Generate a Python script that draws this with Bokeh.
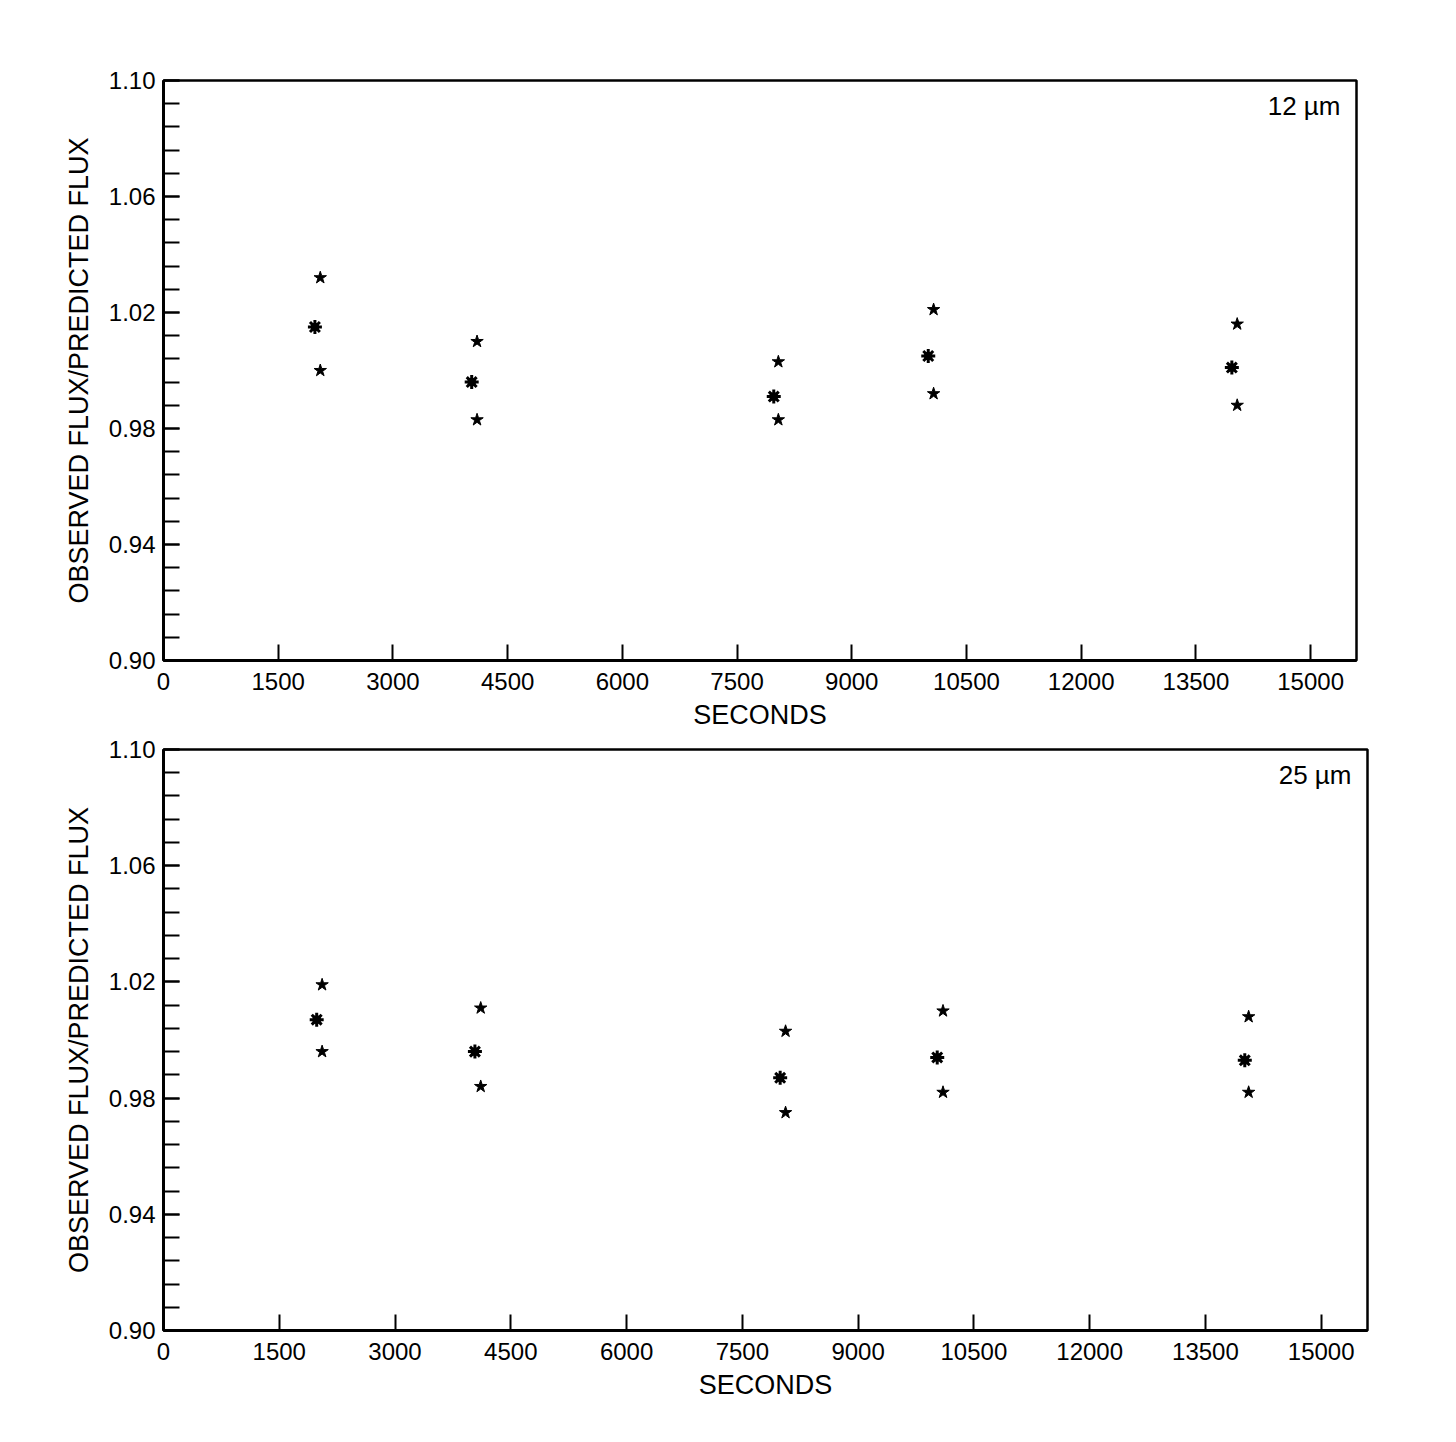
from bokeh.plotting import figure
from bokeh.layouts import column
from bokeh.models import FixedTicker, PrintfTickFormatter, Label, ColumnDataSource
from bokeh.embed import file_html
from bokeh.resources import INLINE

# ---- data ----
x_ticks = [0, 1500, 3000, 4500, 6000, 7500, 9000, 10500, 12000, 13500, 15000]
y_ticks = [0.90, 0.94, 0.98, 1.02, 1.06, 1.10]

# 12 micron panel
t12_mean = [1980, 4030, 7980, 10000, 13970]
f12_mean = [1.015, 0.996, 0.991, 1.005, 1.001]
t12_err = [2050, 4100, 8040, 10070, 14040]
f12_high = [1.032, 1.010, 1.003, 1.021, 1.016]
f12_low = [1.000, 0.983, 0.983, 0.992, 0.988]

# 25 micron panel
t25_mean = [1985, 4035, 7990, 10025, 14010]
f25_mean = [1.007, 0.996, 0.987, 0.994, 0.993]
t25_err = [2055, 4110, 8060, 10100, 14060]
f25_high = [1.019, 1.011, 1.003, 1.010, 1.008]
f25_low = [0.996, 0.984, 0.975, 0.982, 0.982]

FONT = "Liberation Sans"


def make_panel(tm, fm, te, fh, fl, label, left, top, fw, fh_px, bottom):
    p = figure(frame_width=fw, frame_height=fh_px, x_range=(0, 15600), y_range=(0.90, 1.10),
               output_backend="svg", toolbar_location=None,
               min_border_left=left, min_border_top=top, min_border_right=30,
               min_border_bottom=bottom)
    p.grid.visible = False
    p.outline_line_color = "black"
    p.outline_line_width = 2.5
    p.background_fill_color = "white"
    p.border_fill_color = "white"

    p.xaxis.ticker = FixedTicker(ticks=x_ticks)
    p.yaxis.ticker = FixedTicker(ticks=y_ticks,
                                 minor_ticks=[round(0.90 + 0.008 * i, 3) for i in range(26)])
    p.yaxis.formatter = PrintfTickFormatter(format="%.2f")
    for ax in (p.xaxis[0], p.yaxis[0]):
        ax.axis_line_width = 3
        ax.axis_line_color = "black"
        ax.major_tick_in = 16
        ax.major_tick_out = 0
        ax.minor_tick_in = 16
        ax.minor_tick_out = 0
        ax.major_tick_line_width = 2
        ax.minor_tick_line_width = 2
        ax.major_label_text_font = FONT
        ax.major_label_text_font_size = "24px"
        ax.major_label_text_color = "black"
        ax.axis_label_text_font = FONT
        ax.axis_label_text_font_size = "27px"
        ax.axis_label_text_font_style = "normal"
        ax.axis_label_text_color = "black"
    p.xaxis.minor_tick_line_color = None
    p.xaxis.major_label_standoff = 12
    p.yaxis.major_label_standoff = 8
    p.xaxis.axis_label = "SECONDS"
    p.xaxis.axis_label_standoff = 7
    p.yaxis.axis_label = "OBSERVED FLUX/PREDICTED FLUX"
    p.yaxis.axis_label_standoff = 12

    src_m = ColumnDataSource(dict(x=tm, y=fm))
    src_h = ColumnDataSource(dict(x=te, y=fh))
    src_l = ColumnDataSource(dict(x=te, y=fl))
    p.scatter("x", "y", source=src_m, marker="asterisk", size=14, line_width=3, color="black")
    p.scatter("x", "y", source=src_m, marker="square", size=7, color="black")
    p.scatter("x", "y", source=src_h, marker="star", size=13, color="black")
    p.scatter("x", "y", source=src_l, marker="star", size=13, color="black")

    p.add_layout(Label(x=fw - 16, y=fh_px - 10, x_units="screen", y_units="screen",
                       text=label, text_font=FONT, text_font_size="26px",
                       text_align="right", text_baseline="top", text_color="black"))
    return p


p1 = make_panel(t12_mean, f12_mean, t12_err, f12_high, f12_low, "12 µm",
                left=163, top=80, fw=1193, fh_px=580, bottom=74)
p2 = make_panel(t25_mean, f25_mean, t25_err, f25_high, f25_low, "25 µm",
                left=163, top=15, fw=1204, fh_px=581, bottom=80)

layout = column(p1, p2, spacing=0)
open("out.html", "w").write(file_html(layout, INLINE))
